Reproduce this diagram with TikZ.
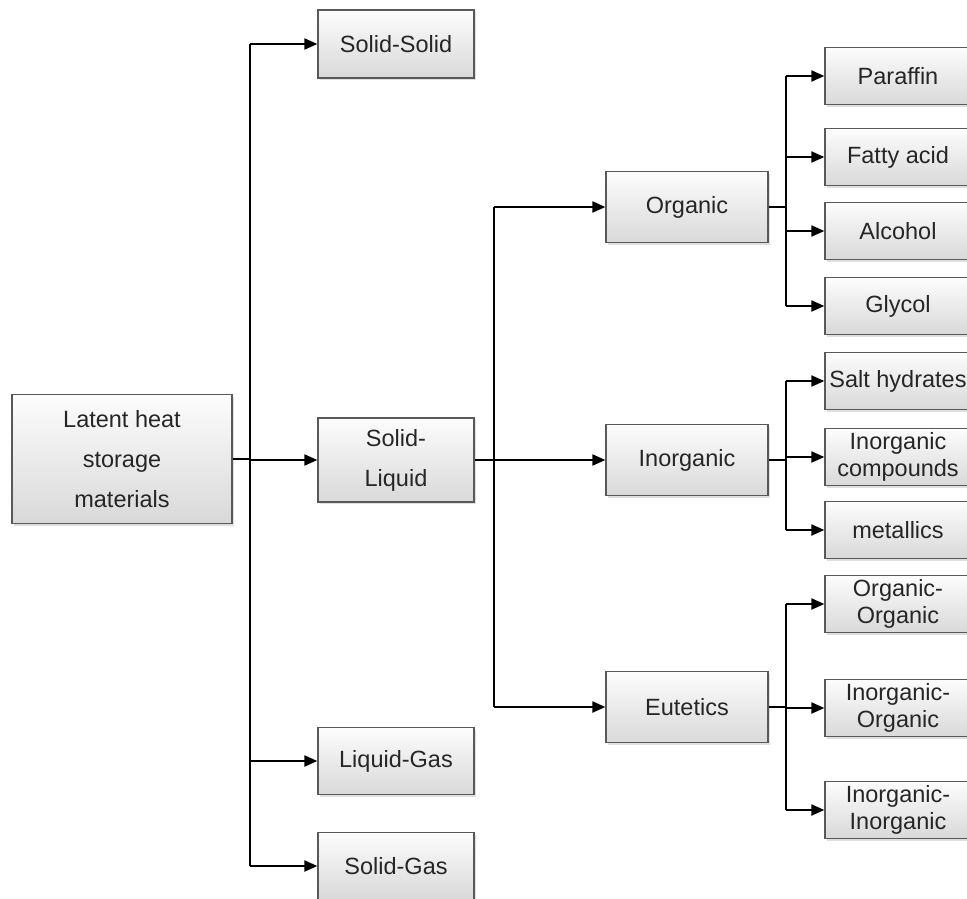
\documentclass[tikz,border=0pt]{standalone}
\usepackage{fontspec}
\setmainfont{Liberation Sans}
\usetikzlibrary{positioning,arrows.meta,shadows}

\tikzset{
    box/.style={draw=black!65, line width=1.2pt, top color=gray!2, bottom color=gray!30,
        align=center, inner sep=0pt, text=black!85,
        font=\fontsize{23.5}{40}\selectfont,
        drop shadow={shadow xshift=2pt, shadow yshift=-2pt, opacity=0.25}},
    mid/.style={box, minimum width=156pt, minimum height=68pt},
    sub/.style={box, minimum width=162pt, minimum height=71pt},
    leaf/.style={box, minimum width=146pt, minimum height=57pt,
        font=\fontsize{23.5}{27}\selectfont},
    arr/.style={line width=2pt, -{Triangle[length=13pt,width=11pt]}},
    link/.style={line width=2pt}
}

\begin{document}
\begin{tikzpicture}[x=1pt,y=-1pt]
    \useasboundingbox (0,0) rectangle (967,899);
    \clip (0,0) rectangle (967,899);

    \node[box, minimum width=220pt, minimum height=129pt] (latent) at (122,459)
        {Latent heat\\storage\\materials};

    \node[mid] (solid solid) at (396,44) {Solid-Solid};
    \node[mid, minimum height=84pt] (solid liquid) at (396,460) {Solid-\\Liquid};
    \node[mid, minimum height=67pt] (liquid gas) at (396,761) {Liquid-Gas};
    \node[mid, minimum height=67pt] (solid gas) at (396,866) {Solid-Gas};

    \node[sub] (organic) at (687,207) {Organic};
    \node[sub] (inorganic) at (687,460) {Inorganic};
    \node[sub] (eutetics) at (687,707) {Eutetics};

    \node[leaf] (paraffin) at (898,76) {Paraffin};
    \node[leaf] (fatty acid) at (898,157) {Fatty acid};
    \node[leaf] (alcohol) at (898,231) {Alcohol};
    \node[leaf] (glycol) at (898,306) {Glycol};
    \node[leaf] (salt hydrates) at (898,381) {Salt hydrates};
    \node[leaf] (inorganic compounds) at (898,457) {Inorganic\\compounds};
    \node[leaf] (metallics) at (898,530) {metallics};
    \node[leaf] (org org) at (898,604) {Organic-\\Organic};
    \node[leaf] (inorg org) at (898,708) {Inorganic-\\Organic};
    \node[leaf] (inorg inorg) at (898,810) {Inorganic-\\Inorganic};

    \coordinate (split main) at (250,459);
    \coordinate (split sl) at (494,460);
    \coordinate (split org) at (786,207);
    \coordinate (split inorg) at (786,460);
    \coordinate (split eut) at (786,707);

    \draw[link] (latent.east) -- (split main);
    \draw[link] (split main |- solid solid.west) -- (split main |- solid gas.west);
    \foreach \n in {solid solid, solid liquid, liquid gas, solid gas}
        \draw[arr] (split main |- \n.west) -- (\n.west);

    \draw[link] (solid liquid.east) -- (split sl);
    \draw[link] (split sl |- organic.west) -- (split sl |- eutetics.west);
    \foreach \n in {organic, inorganic, eutetics}
        \draw[arr] (split sl |- \n.west) -- (\n.west);

    \draw[link] (organic.east) -- (split org);
    \draw[link] (split org |- paraffin.west) -- (split org |- glycol.west);
    \foreach \n in {paraffin, fatty acid, alcohol, glycol}
        \draw[arr] (split org |- \n.west) -- (\n.west);

    \draw[link] (inorganic.east) -- (split inorg);
    \draw[link] (split inorg |- salt hydrates.west) -- (split inorg |- metallics.west);
    \foreach \n in {salt hydrates, inorganic compounds, metallics}
        \draw[arr] (split inorg |- \n.west) -- (\n.west);

    \draw[link] (eutetics.east) -- (split eut);
    \draw[link] (split eut |- org org.west) -- (split eut |- inorg inorg.west);
    \foreach \n in {org org, inorg org, inorg inorg}
        \draw[arr] (split eut |- \n.west) -- (\n.west);
\end{tikzpicture}
\end{document}
